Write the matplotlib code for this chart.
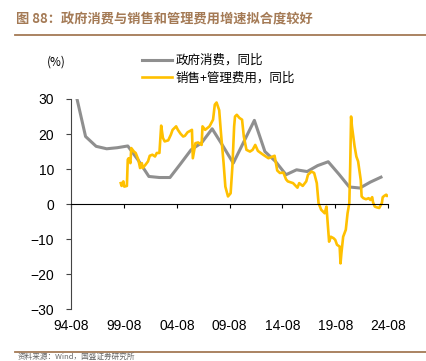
import matplotlib
matplotlib.use('Agg')
from matplotlib import pyplot as plt
from matplotlib.lines import Line2D

plt.rcParams['font.family'] = ['Liberation Sans', 'Noto Sans CJK SC', 'DejaVu Sans']

# 政府消费同比（年度，年末）
gov_years = [1994, 1995, 1996, 1997, 1998, 1999, 2000, 2001, 2002, 2003,
             2004, 2005, 2006, 2007, 2008, 2009, 2010, 2011, 2012, 2013,
             2014, 2015, 2016, 2017, 2018, 2019, 2020, 2021, 2022, 2023]
gov_yoy = [32.5, 19.3, 16.5, 15.8, 16.1, 16.6, 12.5, 7.9, 7.6, 7.6,
           11.5, 15.5, 17.5, 21.5, 16.7, 11.7, 17.8, 23.9, 15.0, 12.2,
           8.4, 9.8, 9.3, 11.0, 12.1, 8.6, 4.9, 4.6, 6.3, 7.7]

# 销售+管理费用同比
fee_dates = ['1999-04', '1999-05', '1999-07', '1999-08', '1999-11', '1999-12',
             '2000-01', '2000-03', '2000-04', '2000-07', '2000-09', '2000-12',
             '2001-02', '2001-04', '2001-05', '2001-08', '2001-11', '2002-01',
             '2002-04', '2002-07', '2002-09', '2002-12', '2003-02', '2003-04',
             '2003-06', '2003-10', '2004-01', '2004-03', '2004-07', '2004-09',
             '2004-12', '2005-03', '2005-05', '2005-08', '2006-01', '2006-02',
             '2006-05', '2006-08', '2006-12', '2007-01', '2007-04', '2007-09',
             '2008-01', '2008-03', '2008-05', '2008-08', '2008-10', '2009-01',
             '2009-03', '2009-06', '2009-09', '2009-11', '2010-01', '2010-02',
             '2010-04', '2010-07', '2010-10', '2010-12', '2011-03', '2011-07',
             '2011-10', '2012-01', '2012-04', '2012-10', '2013-04', '2013-11',
             '2014-02', '2014-05', '2014-09', '2014-12', '2015-02', '2015-08',
             '2016-01', '2016-03', '2016-07', '2016-11', '2017-01', '2017-05',
             '2017-08', '2017-11', '2018-01', '2018-04', '2018-08', '2018-10',
             '2019-01', '2019-03', '2019-06', '2019-08', '2019-10', '2020-01',
             '2020-02', '2020-03', '2020-05', '2020-08', '2020-10', '2020-12',
             '2021-01', '2021-02', '2021-03', '2021-06', '2021-08', '2021-10',
             '2022-01', '2022-02', '2022-04', '2022-07', '2022-10', '2022-12',
             '2023-02', '2023-03', '2023-05', '2023-07', '2023-10', '2024-01',
             '2024-02', '2024-04', '2024-06', '2024-07']
fee_yoy = [6.0, 5.2, 6.5, 5.0, 5.2, 12.7,
           13.1, 11.7, 16.0, 15.0, 14.6, 12.7,
           10.3, 11.7, 10.3, 11.2, 12.2, 13.8,
           14.1, 13.6, 14.6, 14.6, 22.4, 18.9,
           17.9, 18.2, 19.8, 21.2, 22.2, 21.2,
           20.1, 19.3, 19.5, 20.5, 21.2, 13.1,
           17.4, 17.6, 16.9, 22.2, 21.2, 22.2,
           24.1, 28.4, 29.0, 26.8, 20.3, 11.7,
           5.0, 2.2, 3.1, 10.7, 22.2, 25.0,
           25.5, 24.6, 24.1, 19.3, 15.5, 15.0,
           15.5, 16.9, 15.2, 14.1, 13.1, 13.8,
           9.6, 8.9, 9.0, 7.1, 6.5, 6.0,
           4.7, 6.0, 5.2, 6.5, 8.4, 9.3,
           8.9, 6.0, 0.3, -1.6, -2.6, -0.7,
           -10.7, -9.3, -9.7, -10.2, -11.6, -12.1,
           -16.9, -14.0, -9.3, -7.3, -2.6, 0.3,
           10.7, 25.0, 22.2, 16.5, 13.6, 12.2,
           6.9, 2.2, 1.7, 1.4, 1.7, 1.2,
           2.0, 0.5, -0.7, -0.9, -1.1, 0.3,
           2.0, 2.4, 2.7, 2.4]

tick_labels = ['94-08', '99-08', '04-08', '09-08', '14-08', '19-08', '24-08']


def to_year(s):
    y, m = s.split('-')
    return int(y) + (int(m) - 1) / 12


def label_to_year(s):
    y, m = s.split('-')
    y = int(y)
    y = y + 1900 if y > 50 else y + 2000
    return y + (int(m) - 1) / 12


gov_x = [to_year('%d-12' % y) for y in gov_years]
fee_x = [to_year(d) for d in fee_dates]
tick_x = [label_to_year(t) for t in tick_labels]

fig = plt.figure(figsize=(4.27, 3.61), dpi=100)
brown = '#a47a55'
cjk = ['Noto Sans CJK SC', 'DejaVu Sans']

fig.text(16 / 427, 1 - 19 / 361, '图 88：政府消费与销售和管理费用增速拟合度较好',
         family=cjk, fontsize=9.5, color=brown, va='center', ha='left',
         fontweight='bold')
fig.add_artist(Line2D([15 / 427, 1], [1 - 35 / 361] * 2, color=brown, lw=1.3))
fig.add_artist(Line2D([15 / 427, 1], [1 - 351.5 / 361] * 2, color=brown, lw=1.3))
# source line, only a sliver of it shows in the reference
fig.text(18 / 427, 1 - 360.5 / 361, '资料来源：Wind，国盛证券研究所', family=cjk,
         fontsize=5.5, color='#666666', va='bottom', ha='left')

ax = fig.add_axes([71.5 / 427, 1 - 309.3 / 361, (388 - 71.5) / 427, (309.3 - 99) / 361])
ax.plot(gov_x, gov_yoy, color='#8f8f8f', lw=2.2, label='政府消费，同比')
ax.plot(fee_x, fee_yoy, color='#ffc000', lw=1.9, label='销售+管理费用，同比')

ax.set_xlim(tick_x[0], tick_x[-1])
ax.set_ylim(-30, 30)
ax.set_yticks([-30, -20, -10, 0, 10, 20, 30])
ax.set_xticks(tick_x)
ax.set_xticklabels(tick_labels)

ax.spines['top'].set_visible(False)
ax.spines['right'].set_visible(False)
ax.spines['bottom'].set_position(('data', 0))
ax.spines['bottom'].set_color('black')
ax.spines['left'].set_color('#444444')
ax.tick_params(axis='y', direction='out', length=3.5, width=0.8, pad=9,
               labelsize=10, colors='black')
ax.tick_params(axis='x', direction='out', length=3, width=0.8, pad=80,
               labelsize=10, colors='black')
ax.tick_params(axis='y', color='#444444')

fig.text(47 / 427, 1 - 62 / 361, '(%)', family=cjk, fontsize=8.5, va='center', ha='left')
leg = ax.legend(loc='upper left', bbox_to_anchor=(137 / 427, 1 - 49 / 361),
                bbox_transform=fig.transFigure, frameon=False,
                prop={'family': cjk, 'size': 9}, handlelength=2.4,
                handletextpad=0.3, labelspacing=0.35, borderaxespad=0)

fig.savefig('out.png', dpi=100)
